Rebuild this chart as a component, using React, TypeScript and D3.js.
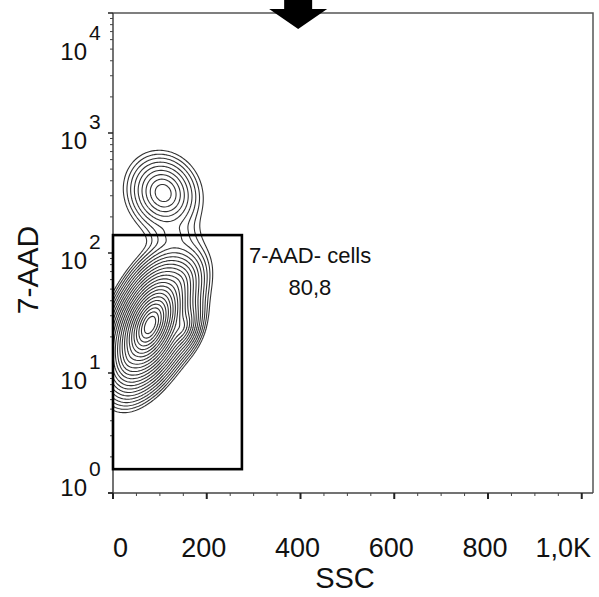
import React, { useMemo } from "react";
import * as d3 from "d3";

const W = 599;
const H = 597;
const FONT = "'Liberation Sans', Arial, Helvetica, sans-serif";

// Axes
const SSC_DOMAIN = [0, 1024];
const AAD_DOMAIN = [1, 10000];
const X_TICKS = [0, 200, 400, 600, 800, 1000];
const X_TICK_LABELS = ["0", "200", "400", "600", "800", "1,0K"];
const X_MINOR_STEP = 50;
const Y_DECADES = [0, 1, 2, 3, 4];
const X_TITLE = "SSC";
const Y_TITLE = "7-AAD";

// Gate
const GATE_SSC = [0, 275];
const GATE_AAD = [1.58, 141];
const GATE_NAME = "7-AAD- cells";
const GATE_PCT = "80,8";
const ARROW_SSC = 395;

// Populations (SSC, log10 7-AAD): centre, spread, tilt, peak height
//                 live core  shoulder  low tail  top right  dead     bridge
const POP_SSC = [79, 147, 34, 139, 107, 128];
const POP_LOG = [1.4, 1.38, 1.12, 1.75, 2.5, 2.15];
const POP_SD_SSC = [13, 11, 11, 18, 21, 22];
const POP_SD_LOG = [0.078, 0.06, 0.07, 0.08, 0.088, 0.06];
const POP_RHO = [0.45, 0.3, 0.2, 0.3, -0.1, 0.0];
const POP_PEAK = [1, 0.01, 0.008, 0.004, 0.006, 0.0004];

// Contour levels: geometric steps below the highest density
const LEVEL_COUNT = 23;
const LEVEL_STEP = 0.36;

const M = { left: 113, right: 593, top: 13, bottom: 493 };

export default function App() {
  const x = d3.scaleLinear().domain(SSC_DOMAIN).range([M.left, M.right]);
  const y = d3.scaleLog().domain(AAD_DOMAIN).range([M.bottom, M.top]);

  const contourPaths = useMemo(() => {
    const step = 1.5;
    const gx0 = 95, gy0 = 100, gx1 = 300, gy1 = 460;
    const nx = Math.round((gx1 - gx0) / step);
    const ny = Math.round((gy1 - gy0) / step);
    const values = new Float64Array(nx * ny);
    for (let j = 0; j < ny; j++) {
      for (let i = 0; i < nx; i++) {
        const px = gx0 + (i + 0.5) * step;
        const py = gy0 + (j + 0.5) * step;
        const s = x.invert(px);
        const l = Math.log10(y.invert(py));
        let v = 0;
        for (let k = 0; k < POP_SSC.length; k++) {
          const dx = (s - POP_SSC[k]) / POP_SD_SSC[k];
          const dy = (l - POP_LOG[k]) / POP_SD_LOG[k];
          const r = POP_RHO[k];
          const q = (dx * dx - 2 * r * dx * dy + dy * dy) / (1 - r * r);
          v += POP_PEAK[k] * Math.exp(1 - Math.sqrt(q + 1));
        }
        values[j * nx + i] = v;
      }
    }
    const mx = d3.max(values as any as number[]) as number;
    const thr = d3.range(1, LEVEL_COUNT + 1).map((k) => mx * Math.exp(-LEVEL_STEP * k));
    const cs = d3.contours().size([nx, ny]).thresholds(thr)(Array.from(values));
    const gp = d3.geoPath(d3.geoIdentity().scale(step).translate([gx0, gy0]) as any);
    return cs.map((c) => gp(c as any) || "");
  }, []);

  const xMinor = d3.range(0, 1025, X_MINOR_STEP).filter((v) => v % 200 !== 0);
  const yMinor: number[] = [];
  for (const d of Y_DECADES.slice(0, -1)) for (let m = 2; m <= 9; m++) yMinor.push(m * Math.pow(10, d));

  const ax = x(ARROW_SSC);

  return (
    <svg width={W} height={H} style={{ position: "absolute", left: 0, top: 0, background: "#fff" }}>
      <defs>
        <clipPath id="plot">
          <rect x={M.left} y={M.top} width={M.right - M.left} height={M.bottom - M.top} />
        </clipPath>
      </defs>
      <rect x={0} y={0} width={W} height={H} fill="#fff" />
      <path d={`M${M.left},${M.top}H${M.right}V${M.bottom}`} fill="none" stroke="#555" strokeWidth={1.5} />
      <g clipPath="url(#plot)" fill="none" stroke="#333" strokeWidth={1.1}>
        {contourPaths.map((d, i) => <path key={i} d={d} />)}
      </g>
      <line x1={M.left - 5} x2={M.right} y1={M.bottom} y2={M.bottom} stroke="#444" strokeWidth={1.5} />
      <line x1={M.left} x2={M.left} y1={M.top} y2={M.bottom + 5} stroke="#444" strokeWidth={1.5} />
      {X_TICKS.map((t) => (
        <line key={t} x1={x(t)} x2={x(t)} y1={M.bottom} y2={M.bottom + 6} stroke="#222" strokeWidth={2} />
      ))}
      {xMinor.map((t) => (
        <line key={t} x1={x(t)} x2={x(t)} y1={M.bottom} y2={M.bottom + 3} stroke="#444" strokeWidth={1} />
      ))}
      {Y_DECADES.map((d) => (
        <line key={d} x1={M.left - 5} x2={M.left} y1={y(Math.pow(10, d))} y2={y(Math.pow(10, d))} stroke="#222" strokeWidth={1.5} />
      ))}
      {yMinor.map((v) => (
        <line key={v} x1={M.left - 3} x2={M.left} y1={y(v)} y2={y(v)} stroke="#444" strokeWidth={1} />
      ))}
      {X_TICKS.map((t, i) => {
        const first = i === 0, last = i === X_TICKS.length - 1;
        return (
          <text key={t} x={first ? x(t) : last ? M.right - 2 : x(t) - 3} y={557}
            textAnchor={first ? "start" : last ? "end" : "middle"}
            fontFamily={FONT} fontSize={27} fill="#111">{X_TICK_LABELS[i]}</text>
        );
      })}
      {Y_DECADES.map((d) => {
        const base = Math.min(496, Math.max(60, y(Math.pow(10, d)) + 16));
        return (
          <g key={d} fontFamily={FONT} fill="#111">
            <text x={87} y={base} textAnchor="end" fontSize={24}>10</text>
            <text x={89} y={base - 20} textAnchor="start" fontSize={21}>{d}</text>
          </g>
        );
      })}
      <text x={345} y={588} textAnchor="middle" fontFamily={FONT} fontSize={29} fill="#111">{X_TITLE}</text>
      <text transform={`translate(38,270) rotate(-90)`} textAnchor="middle" fontFamily={FONT} fontSize={30} fill="#111">{Y_TITLE}</text>
      <rect x={x(GATE_SSC[0])} y={y(GATE_AAD[1])} width={x(GATE_SSC[1]) - x(GATE_SSC[0])} height={y(GATE_AAD[0]) - y(GATE_AAD[1])}
        fill="none" stroke="#000" strokeWidth={2.6} />
      <text x={x(GATE_SSC[1]) + 7} y={263} fontFamily={FONT} fontSize={22} fill="#111">{GATE_NAME}</text>
      <text x={x(GATE_SSC[1]) + 68} y={295} textAnchor="middle" fontFamily={FONT} fontSize={22} fill="#111">{GATE_PCT}</text>
      <path d={`M${ax - 14},0V9H${ax - 29}L${ax},29L${ax + 29},9H${ax + 14}V0Z`} fill="#000" />
    </svg>
  );
}
